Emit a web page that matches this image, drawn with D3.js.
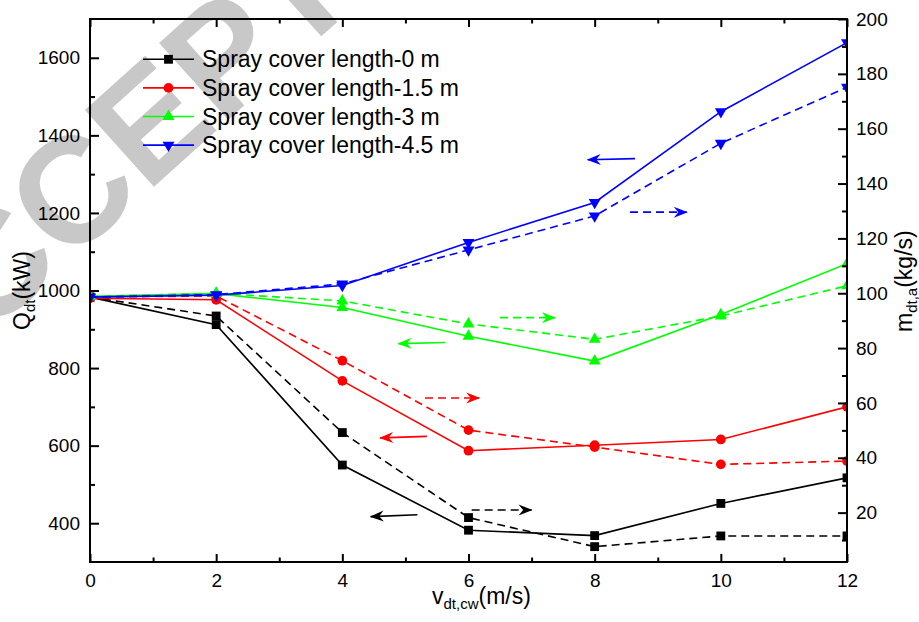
<!DOCTYPE html>
<html>
<head>
<meta charset="utf-8">
<script src="https://cdn.jsdelivr.net/npm/d3@7"></script>
<style>
  body { margin: 0; background: #fff; }
  text { font-family: "Liberation Sans", Arial, sans-serif; }
</style>
</head>
<body>
<script>
// water curtain cover length vs. heat rate (solid) and air flow (dashed)
const speeds = [0, 2, 4, 6, 8, 10, 12];
const seriesNames = [
  "Spray cover length-0 m",
  "Spray cover length-1.5 m",
  "Spray cover length-3 m",
  "Spray cover length-4.5 m"
];
const seriesColors = ["#000000", "#ff0000", "#00ff00", "#0000ff"];
const seriesSymbols = ["square", "circle", "triangle", "triangleDown"];

// Q_dt (kW), left axis, solid lines
const heat0 = [983, 912, 550, 382, 368, 451, 517];
const heat15 = [980, 976, 767, 587, 601, 616, 700];
const heat3 = [985, 992, 956, 882, 818, 938, 1069];
const heat45 = [983, 988, 1013, 1124, 1227, 1461, 1639];

// m_dt,a (kg/s), right axis, dashed lines
const flow0 = [98.6, 91.7, 49.2, 18.2, 7.6, 11.5, 11.5];
const flow15 = [98.6, 99, 75.4, 50.1, 43.9, 37.6, 38.8];
const flow3 = [98.8, 100, 97.2, 88.8, 83.2, 91.7, 102.7];
const flow45 = [98.6, 99.5, 103.4, 115.8, 128.2, 154.7, 175.1];

const heatSeries = [heat0, heat15, heat3, heat45];
const flowSeries = [flow0, flow15, flow3, flow45];

const xMajor = [0, 2, 4, 6, 8, 10, 12];
const xMinor = [1, 3, 5, 7, 9, 11];
const leftMajor = [400, 600, 800, 1000, 1200, 1400, 1600];
const leftMinor = [500, 700, 900, 1100, 1300, 1500];
const rightMajor = [20, 40, 60, 80, 100, 120, 140, 160, 180, 200];
const rightMinor = [10, 30, 50, 70, 90, 110, 130, 150, 170, 190];

// direction arrows: x in m/s, y in left axis units
const arrowNotes = [
  { s: 0, dashed: false, x1: 5.19, y1: 422, x2: 4.45, y2: 417 },
  { s: 0, dashed: true, x1: 6.05, y1: 434, x2: 7.0, y2: 434 },
  { s: 1, dashed: false, x1: 5.34, y1: 624, x2: 4.6, y2: 620 },
  { s: 1, dashed: true, x1: 5.31, y1: 723, x2: 6.17, y2: 723 },
  { s: 2, dashed: false, x1: 5.63, y1: 866, x2: 4.89, y2: 863 },
  { s: 2, dashed: true, x1: 6.5, y1: 930, x2: 7.37, y2: 930 },
  { s: 3, dashed: false, x1: 8.64, y1: 1340, x2: 7.89, y2: 1337 },
  { s: 3, dashed: true, x1: 8.56, y1: 1202, x2: 9.46, y2: 1202 }
];

const width = 919, height = 622;
const plotLeft = 90, plotRight = 847, plotTop = 19, plotBottom = 562;

const svg = d3.select("body").append("svg")
  .attr("width", width)
  .attr("height", height);

svg.append("rect")
  .attr("width", width)
  .attr("height", height)
  .attr("fill", "#fff");

// watermark
svg.append("text")
  .attr("transform", "translate(-95,411) rotate(-42)")
  .attr("font-size", 150)
  .attr("font-weight", "bold")
  .attr("fill", "#c8c8c8")
  .text("ACCEPTED");

const x = d3.scaleLinear().domain([0, 12]).range([plotLeft, plotRight]);
const yLeft = d3.scaleLinear().domain([300, 1700]).range([plotBottom, plotTop]);
const yRight = d3.scaleLinear().domain([2, 200]).range([plotBottom, plotTop]);

const defs = svg.append("defs");
defs.append("clipPath").attr("id", "plot")
  .append("rect")
  .attr("x", plotLeft).attr("y", plotTop)
  .attr("width", plotRight - plotLeft).attr("height", plotBottom - plotTop);

seriesColors.forEach(function (c, i) {
  defs.append("marker")
    .attr("id", "head" + i)
    .attr("viewBox", "-14 -7 16 14")
    .attr("refX", 0).attr("refY", 0)
    .attr("markerWidth", 16).attr("markerHeight", 14)
    .attr("markerUnits", "userSpaceOnUse")
    .attr("orient", "auto")
    .append("path")
    .attr("d", "M1,0 L-13,-5.5 L-8.5,0 L-13,5.5 Z")
    .attr("fill", c);
});

function symbolPath(kind, size) {
  const type = kind === "square" ? d3.symbolSquare
    : kind === "circle" ? d3.symbolCircle : d3.symbolTriangle;
  return d3.symbol().type(type).size(size)();
}
const symbolSize = { square: 78, circle: 75, triangle: 62, triangleDown: 62 };

const plot = svg.append("g").attr("clip-path", "url(#plot)");

function drawSeries(values, yScale, i, dashed) {
  const pts = speeds.map((s, k) => [x(s), yScale(values[k])]);
  plot.append("path")
    .attr("d", d3.line()(pts))
    .attr("fill", "none")
    .attr("stroke", seriesColors[i])
    .attr("stroke-width", 1.6)
    .attr("stroke-dasharray", dashed ? "8,5" : null);
  const kind = seriesSymbols[i];
  plot.selectAll(null).data(pts).enter().append("path")
    .attr("d", symbolPath(kind, symbolSize[kind]))
    .attr("transform", d => "translate(" + d[0] + "," + d[1] + ")" + (kind === "triangleDown" ? " rotate(180)" : ""))
    .attr("fill", seriesColors[i]);
}

for (let i = 0; i < 4; i++) {
  drawSeries(flowSeries[i], yRight, i, true);
  drawSeries(heatSeries[i], yLeft, i, false);
}

arrowNotes.forEach(function (a) {
  svg.append("line")
    .attr("x1", x(a.x1)).attr("y1", yLeft(a.y1))
    .attr("x2", x(a.x2)).attr("y2", yLeft(a.y2))
    .attr("stroke", seriesColors[a.s])
    .attr("stroke-width", 1.6)
    .attr("stroke-dasharray", a.dashed ? "8,5" : null)
    .attr("marker-end", "url(#head" + a.s + ")");
});

// axes
function styleAxis(g) {
  g.select(".domain").remove();
  g.selectAll(".tick line").attr("stroke", "#000").attr("stroke-width", 2);
  g.selectAll(".tick text").attr("fill", "#000").attr("font-size", 19)
    .attr("font-family", "Liberation Sans, Arial, sans-serif");
}

svg.append("g").attr("transform", "translate(0," + plotBottom + ")")
  .call(d3.axisBottom(x).tickValues(xMajor).tickSize(-8).tickPadding(11.5).tickFormat(d3.format("d")))
  .call(styleAxis);
svg.append("g").attr("transform", "translate(0," + plotBottom + ")")
  .call(d3.axisBottom(x).tickValues(xMinor).tickSize(-4.5).tickFormat(""))
  .call(styleAxis);
svg.append("g").attr("transform", "translate(0," + plotTop + ")")
  .call(d3.axisTop(x).tickValues(xMajor).tickSize(-8).tickFormat(""))
  .call(styleAxis);
svg.append("g").attr("transform", "translate(0," + plotTop + ")")
  .call(d3.axisTop(x).tickValues(xMinor).tickSize(-4.5).tickFormat(""))
  .call(styleAxis);
svg.append("g").attr("transform", "translate(" + plotLeft + ",0)")
  .call(d3.axisLeft(yLeft).tickValues(leftMajor).tickSize(-9).tickPadding(10).tickFormat(d3.format("d")))
  .call(styleAxis);
svg.append("g").attr("transform", "translate(" + plotLeft + ",0)")
  .call(d3.axisLeft(yLeft).tickValues(leftMinor).tickSize(-5).tickFormat(""))
  .call(styleAxis);
svg.append("g").attr("transform", "translate(" + plotRight + ",0)")
  .call(d3.axisRight(yRight).tickValues(rightMajor).tickSize(-9).tickPadding(9).tickFormat(d3.format("d")))
  .call(styleAxis);
svg.append("g").attr("transform", "translate(" + plotRight + ",0)")
  .call(d3.axisRight(yRight).tickValues(rightMinor).tickSize(-5).tickFormat(""))
  .call(styleAxis);

svg.append("rect")
  .attr("x", plotLeft).attr("y", plotTop)
  .attr("width", plotRight - plotLeft).attr("height", plotBottom - plotTop)
  .attr("fill", "none")
  .attr("stroke", "#000")
  .attr("stroke-width", 2);

// axis titles
const xTitle = svg.append("text").attr("x", 432).attr("y", 604).attr("font-size", 23);
xTitle.append("tspan").text("v");
xTitle.append("tspan").attr("font-size", 15).attr("dy", 5).text("dt,cw");
xTitle.append("tspan").attr("dy", -5).text("(m/s)");

const yTitle = svg.append("text").attr("transform", "translate(30,330) rotate(-90)").attr("font-size", 23);
yTitle.append("tspan").text("Q");
yTitle.append("tspan").attr("font-size", 15).attr("dy", 5).text("dt");
yTitle.append("tspan").attr("dy", -5).text("(kW)");

const rTitle = svg.append("text").attr("transform", "translate(912,332) rotate(-90)").attr("font-size", 23);
rTitle.append("tspan").text("m");
rTitle.append("tspan").attr("font-size", 15).attr("dy", 5).text("dt,a");
rTitle.append("tspan").attr("dy", -5).text("(kg/s)");

// legend
const legend = svg.append("g");
seriesNames.forEach(function (name, i) {
  const ly = 59.3 + i * 28.6;
  legend.append("line")
    .attr("x1", 143).attr("x2", 194)
    .attr("y1", ly).attr("y2", ly)
    .attr("stroke", seriesColors[i])
    .attr("stroke-width", 1.6);
  const kind = seriesSymbols[i];
  legend.append("path")
    .attr("d", symbolPath(kind, symbolSize[kind]))
    .attr("transform", "translate(168.5," + ly + ")" + (kind === "triangleDown" ? " rotate(180)" : ""))
    .attr("fill", seriesColors[i]);
  legend.append("text")
    .attr("x", 202).attr("y", ly + 8)
    .attr("font-size", 23)
    .attr("fill", "#000")
    .text(name);
});
</script>
</body>
</html>
